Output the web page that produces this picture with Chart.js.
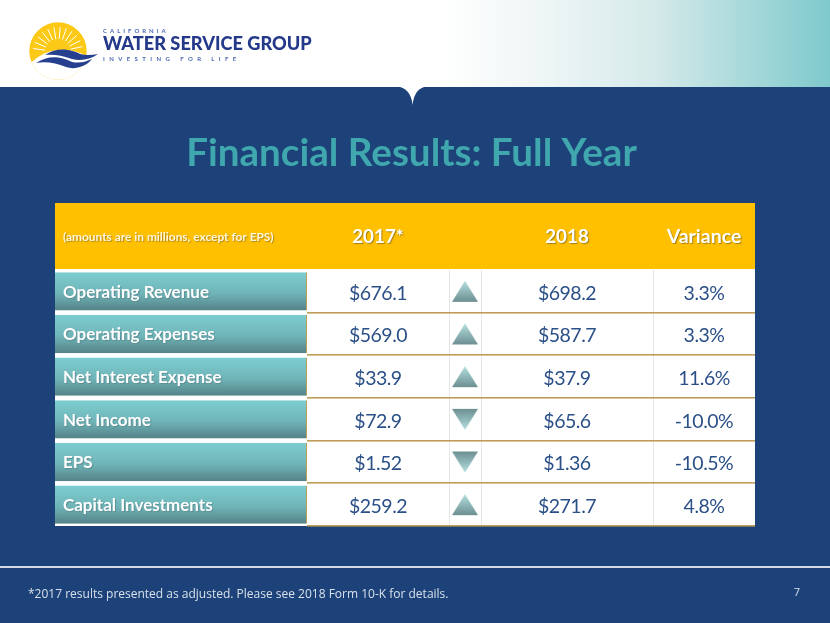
<!DOCTYPE html>
<html>
<head>
<meta charset="utf-8">
<title>Financial Results: Full Year</title>
<script src="https://cdn.jsdelivr.net/npm/chart.js@4"></script>
<style>
  html,body{margin:0;padding:0;background:#1c4279;}
  canvas{display:block;}
</style>
</head>
<body>
<canvas id="slide" width="830" height="623"></canvas>
<script>
// table data
const rowLabels = ["Operating Revenue","Operating Expenses","Net Interest Expense","Net Income","EPS","Capital Investments"];
const values2017 = [676.1,569.0,33.9,72.9,1.52,259.2];
const values2018 = [698.2,587.7,37.9,65.6,1.36,271.7];
const variance = [3.3,3.3,11.6,-10.0,-10.5,4.8];
const headerLabels = ["2017*","2018","Variance"];
const unitsNote = "(amounts are in millions, except for EPS)";
const titleText = "Financial Results: Full Year";
const footnote = "*2017 results presented as adjusted. Please see 2018 Form 10-K for details.";
const pageNumber = "7";

// column edges along the table, x scale runs 0..700
const edges = [0,252,394,426,598,700];
const mid = i => (edges[i]+edges[i+1])/2;

const FONT = 'Lato, sans-serif';
const NAVY = '#1c4279';
const GOLD = '#bd9d58';
const INK = '#2b5088';

const money = v => '$'+(v<10 ? v.toFixed(2) : v.toFixed(1));
const pct = v => v.toFixed(1)+'%';

function makeArrow(up){
    let c = document.createElement('canvas');
    c.width = 28; c.height = 23;
    let g = c.getContext('2d');
    let grad = g.createLinearGradient(0,up?1:22,0,up?22:1);
    grad.addColorStop(0,'#b4e0e0');
    grad.addColorStop(1,'#6d8f92');
    g.fillStyle = grad;
    g.beginPath();
    if(up){ g.moveTo(14,1); g.lineTo(27,22); g.lineTo(1,22); }
    else { g.moveTo(14,22); g.lineTo(27,1); g.lineTo(1,1); }
    g.closePath();
    g.fill();
    return c;
}
const arrowUp = makeArrow(true);
const arrowDown = makeArrow(false);

function text(ctx,str,x,y,font,color,align,shadow,spacing){
    ctx.save();
    ctx.font = font;
    ctx.fillStyle = color;
    ctx.textAlign = align||'left';
    ctx.textBaseline = 'middle';
    if(spacing) ctx.letterSpacing = spacing;
    if(shadow){
        ctx.shadowColor = shadow;
        ctx.shadowOffsetX = 1;
        ctx.shadowOffsetY = 1;
        ctx.shadowBlur = 1;
    }
    ctx.fillText(str,x,y);
    ctx.restore();
}

function drawLogo(ctx){
    // sun
    ctx.save();
    ctx.beginPath();
    ctx.arc(58,51,28.7,0,Math.PI*2);
    ctx.clip();
    ctx.fillStyle = '#fcc917';
    ctx.fillRect(25,20,70,64);
    ctx.strokeStyle = '#ffffff';
    ctx.lineWidth = 1;
    for(let a=-172;a<=-8;a+=14.5){
        let r = a*Math.PI/180;
        ctx.beginPath();
        ctx.moveTo(58+Math.cos(r)*13,52+Math.sin(r)*13);
        ctx.lineTo(58+Math.cos(r)*25,52+Math.sin(r)*25);
        ctx.stroke();
    }
    ctx.fillStyle = '#ffffff';
    ctx.beginPath();
    ctx.moveTo(28,66);
    ctx.bezierCurveTo(45,46,72,46,90,58);
    ctx.lineTo(90,84);
    ctx.lineTo(28,84);
    ctx.closePath();
    ctx.fill();
    ctx.restore();
    // waves
    ctx.fillStyle = '#273f8f';
    ctx.beginPath();
    ctx.moveTo(45,55);
    ctx.bezierCurveTo(58,46,72,50,80,54);
    ctx.quadraticCurveTo(88,56,98,54);
    ctx.bezierCurveTo(90,60,80,61,72,59);
    ctx.bezierCurveTo(62,55,52,54,45,55);
    ctx.closePath();
    ctx.fill();
    ctx.beginPath();
    ctx.moveTo(36,63);
    ctx.bezierCurveTo(48,55,60,56,72,62);
    ctx.quadraticCurveTo(82,64,92,59);
    ctx.bezierCurveTo(86,67,74,70,66,67);
    ctx.bezierCurveTo(56,63,46,61,36,63);
    ctx.closePath();
    ctx.fill();
    // wordmark
    text(ctx,'CALIFORNIA',103,31,'bold 6px '+FONT,'#4c68b2','left',null,'3px');
    text(ctx,'WATER SERVICE GROUP',103,44.5,'900 18.2px '+FONT,'#25398a','left');
    text(ctx,'INVESTING FOR LIFE',103,59.5,'bold 6px '+FONT,'#4c68b2','left',null,'4.4px');
}

const slidePlugin = {
    id:'slide',
    beforeDraw(chart){
        const ctx = chart.ctx;
        const x = chart.scales.x;
        ctx.save();
        ctx.fillStyle = NAVY;
        ctx.fillRect(0,0,chart.width,chart.height);
        // top banner
        let band = ctx.createLinearGradient(440,0,830,0);
        band.addColorStop(0,'#ffffff');
        band.addColorStop(0.25,'#f0f6f6');
        band.addColorStop(0.55,'#d5eaea');
        band.addColorStop(1,'#7fc9cc');
        ctx.fillStyle = band;
        ctx.fillRect(0,0,chart.width,87);
        ctx.fillStyle = '#ffffff';
        ctx.beginPath();
        ctx.moveTo(396,86);
        ctx.quadraticCurveTo(411,88,412.6,105);
        ctx.quadraticCurveTo(414,88,428,86);
        ctx.closePath();
        ctx.fill();
        // footer rule
        ctx.fillStyle = '#d4dbe6';
        ctx.fillRect(0,566,chart.width,2);
        drawLogo(ctx);
        text(ctx,titleText,411.5,154,'bold 38.6px '+FONT,'#3fa7ad','center');
        // header band sits on the x scale
        ctx.fillStyle = '#ffc000';
        ctx.fillRect(x.getPixelForValue(0),203,x.width,66);
        ctx.fillStyle = '#ffffff';
        ctx.fillRect(x.getPixelForValue(0),269,x.width,2);
        ctx.restore();
        text(ctx,footnote,28,595,'12px "Open Sans", sans-serif','#d8e0ea');
        text(ctx,pageNumber,797,593,'11px "Open Sans", sans-serif','#d8e0ea','center');
    },
    afterDatasetsDraw(chart){
        const ctx = chart.ctx;
        const x = chart.scales.x, y = chart.scales.y;
        const area = chart.chartArea;
        ctx.save();
        // column rules, right side of the row labels only
        ctx.strokeStyle = '#e6e6e6';
        ctx.lineWidth = 1;
        [2,3,4].forEach(i=>{
            let px = Math.round(x.getPixelForValue(edges[i]))+0.5;
            ctx.beginPath();
            ctx.moveTo(px,area.top);
            ctx.lineTo(px,area.bottom);
            ctx.stroke();
        });
        // row rules
        ctx.fillStyle = GOLD;
        rowLabels.forEach((r,i)=>{
            let py = Math.round(y.getPixelForValue(i)+y.height/rowLabels.length/2);
            ctx.fillRect(x.getPixelForValue(edges[1]),py-1,x.getPixelForValue(edges[5])-x.getPixelForValue(edges[1]),1.6);
        });
        ctx.restore();

        // header text
        const hy = 237;
        text(ctx,unitsNote,x.getPixelForValue(8),hy,'bold 11.9px '+FONT,'#fff6dc','left','#b58a10');
        text(ctx,headerLabels[0],x.getPixelForValue(mid(1)),hy,'bold 18.8px '+FONT,'#ffffff','center','#a67f10');
        text(ctx,headerLabels[1],x.getPixelForValue(mid(3)),hy,'bold 18.8px '+FONT,'#ffffff','center','#a67f10');
        text(ctx,headerLabels[2],x.getPixelForValue(mid(4)),hy,'bold 19.5px '+FONT,'#ffffff','center','#a67f10');

        // body text
        rowLabels.forEach((r,i)=>{
            let py = y.getPixelForValue(i);
            text(ctx,r,x.getPixelForValue(8),py+1,'bold 17px '+FONT,'#ffffff','left','#5d8f95');
            text(ctx,money(values2017[i]),x.getPixelForValue(mid(1)),py+2,'19.5px '+FONT,INK,'center',null,'-0.5px');
            text(ctx,money(values2018[i]),x.getPixelForValue(mid(3)),py+2,'19.5px '+FONT,INK,'center',null,'-0.5px');
            text(ctx,pct(variance[i]),x.getPixelForValue(mid(4)),py+2,'19.5px '+FONT,INK,'center',null,'-0.5px');
        });
    }
};

const tealFill = (context)=>{
    const chart = context.chart;
    const y = chart.scales.y;
    let c = context.type==='data' && y ? y.getPixelForValue(context.dataIndex) : NaN;
    if(!isFinite(c)) return '#6fb4b8';
    let g = chart.ctx.createLinearGradient(0,c-19,0,c+19);
    g.addColorStop(0,'#7dcdd0');
    g.addColorStop(0.55,'#6fb5b8');
    g.addColorStop(1,'#558388');
    return g;
};

new Chart(document.getElementById('slide'),{
    type:'bar',
    plugins:[slidePlugin],
    data:{
        labels:rowLabels,
        datasets:[
            {
                type:'scatter',
                label:'direction',
                order:1,
                data:variance.map((v,i)=>({x:mid(2),y:rowLabels[i]})),
                pointStyle:variance.map(v=>v>0?arrowUp:arrowDown),
                pointRadius:13
            },
            {
                label:'row labels',
                order:2,
                data:rowLabels.map(()=>[edges[0],edges[1]]),
                backgroundColor:tealFill,
                borderColor:GOLD,
                borderWidth:{right:1},
                borderSkipped:false,
                barPercentage:0.9,
                categoryPercentage:1,
                grouped:false
            },
            {
                label:'cells',
                order:3,
                data:rowLabels.map(()=>[edges[0],edges[5]]),
                backgroundColor:'#ffffff',
                barPercentage:1,
                categoryPercentage:1,
                grouped:false
            }
        ]
    },
    options:{
        indexAxis:'y',
        responsive:false,
        animation:false,
        devicePixelRatio:1,
        layout:{padding:{left:55,right:75,top:270,bottom:97}},
        plugins:{legend:{display:false},tooltip:{enabled:false},title:{display:false}},
        scales:{
            x:{type:'linear',min:0,max:700,display:false},
            y:{type:'category',labels:rowLabels,offset:true,display:false}
        }
    }
});
</script>
</body>
</html>
